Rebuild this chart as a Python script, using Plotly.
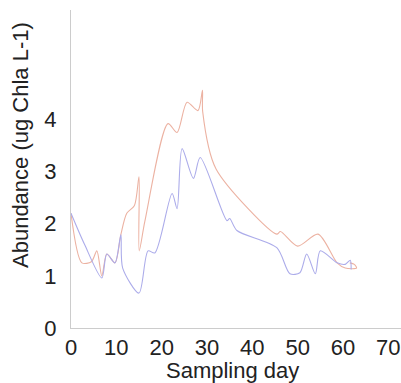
import plotly.graph_objects as go

# Sampling day and chlorophyll-a abundance for the two series
day_blue = [0, 3, 6.8, 7.9, 9.7, 11, 11.4, 15, 17, 18.5, 22.3, 23.4, 24.5, 27, 28.5,
            34.4, 35, 36.6, 45.4, 48.3, 50.5, 52, 53.9, 55, 58.7, 60.5, 61.6, 61.8]
abund_blue = [2.2, 1.6, 0.96, 1.42, 1.25, 1.79, 1.15, 0.67, 1.48, 1.44, 2.58, 2.29, 3.44, 2.87, 3.27,
              2.06, 2.1, 1.87, 1.54, 1.04, 1.06, 1.42, 1.04, 1.48, 1.25, 1.22, 1.3, 1.12]

day_red = [0, 2.4, 4.5, 5.7, 6.8, 7.9, 9.7, 11, 12.3, 14, 15, 15.05, 16.3, 21.4, 23.4,
           25.6, 28, 29, 29.05, 32, 45.4, 46.2, 50, 54.5, 58.7, 60.5, 63, 62.5, 61.5]
abund_red = [2.2, 1.25, 1.27, 1.48, 1.0, 1.42, 1.25, 1.79, 2.2, 2.35, 2.9, 1.48, 2.05, 3.92, 3.75,
             4.33, 4.17, 4.56, 4.15, 3.05, 1.8, 1.85, 1.57, 1.8, 1.25, 1.15, 1.15, 1.22, 1.25]

x_ticks = [0, 10, 20, 30, 40, 50, 60, 70]
y_ticks = [0, 1, 2, 3, 4]

FONT = "Liberation Sans, Arial, sans-serif"
SIZE = 22

fig = go.Figure()
fig.add_trace(go.Scatter(x=day_red, y=abund_red, mode="lines",
                         line=dict(color="rgb(236,178,162)", width=1.1, shape="spline", smoothing=0.8),
                         showlegend=False))
fig.add_trace(go.Scatter(x=day_blue, y=abund_blue, mode="lines",
                         line=dict(color="rgb(172,172,234)", width=1.1, shape="spline", smoothing=0.8),
                         showlegend=False))

fig.update_layout(
    width=401, height=383,
    margin=dict(l=71, r=0, t=10, b=55),
    paper_bgcolor="white", plot_bgcolor="white",
    font=dict(family=FONT, size=SIZE, color="#222"),
    xaxis=dict(range=[0, 72.8], tickvals=x_ticks, showgrid=False, zeroline=False,
               showline=True, linecolor="#cccccc", linewidth=1, ticks="",
               ticklabelstandoff=0, tickfont=dict(family=FONT, size=SIZE)),
    yaxis=dict(range=[0, 6.1], tickvals=y_ticks, showgrid=False, zeroline=False,
               showline=True, linecolor="#cccccc", linewidth=1, ticks="",
               ticklabelstandoff=9, tickfont=dict(family=FONT, size=SIZE)),
    annotations=[
        dict(text="Abundance (ug Chla L-1)", textangle=-90,
             xref="paper", yref="paper", x=-0.155, y=0.575,
             xanchor="center", yanchor="middle", showarrow=False,
             font=dict(family=FONT, size=SIZE, color="#222")),
        dict(text="Sampling day",
             xref="paper", yref="paper", x=0.49, y=-0.178,
             xanchor="center", yanchor="bottom", showarrow=False,
             font=dict(family=FONT, size=SIZE, color="#222")),
    ],
)

fig.write_html("out.html")
